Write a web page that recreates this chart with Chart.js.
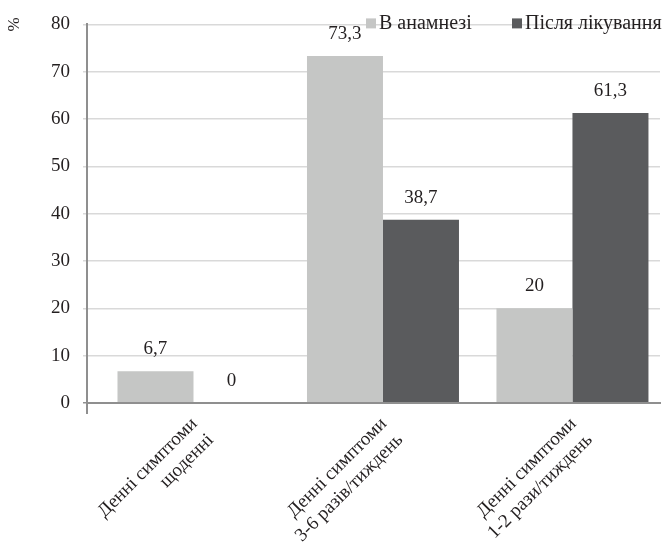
<!DOCTYPE html>
<html>
<head>
<meta charset="utf-8">
<script src="https://cdn.jsdelivr.net/npm/chart.js@4/dist/chart.umd.min.js"></script>
<style>
  html, body { margin: 0; padding: 0; background: #ffffff; }
  #wrap { width: 667px; height: 555px; position: relative; }
</style>
</head>
<body>
<div id="wrap"><canvas id="chart"></canvas></div>
<script>
// Day-time symptom frequency, % of patients
const categories = [
  ['Денні симптоми', 'щоденні'],
  ['Денні симптоми', '3-6 разів/тиждень'],
  ['Денні симптоми', '1-2 рази/тиждень']
];
const seriesNames = ['В анамнезі', 'Після лікування'];
const historyValues = [6.7, 73.3, 20];
const afterTreatmentValues = [0, 38.7, 61.3];
const yTicks = [0, 10, 20, 30, 40, 50, 60, 70, 80];
const yUnit = '%';

const FONT = '"Liberation Serif", "Times New Roman", serif';
const TEXT = '#231f20';
const AXIS = '#8f8f8f';
const COLORS = ['#c5c6c5', '#5a5b5d'];

const fmt = v => String(v).replace('.', ',');

// value labels above each bar, the unit title and the legend
const decorations = {
  id: 'decorations',
  afterDatasetsDraw(chart) {
    const ctx = chart.ctx;
    ctx.save();
    ctx.fillStyle = TEXT;
    ctx.font = '19px ' + FONT;
    ctx.textAlign = 'center';
    ctx.textBaseline = 'middle';
    chart.data.datasets.forEach((ds, di) => {
      const meta = chart.getDatasetMeta(di);
      meta.data.forEach((bar, i) => {
        ctx.fillText(fmt(ds.data[i].y), bar.x, bar.y - 22);
      });
    });
    ctx.restore();
  },
  afterDraw(chart) {
    const ctx = chart.ctx;
    const area = chart.chartArea;
    ctx.save();
    // small tick under the axis corner
    ctx.strokeStyle = AXIS;
    ctx.lineWidth = 2;
    ctx.beginPath();
    ctx.moveTo(area.left, area.bottom);
    ctx.lineTo(area.left, area.bottom + 11);
    ctx.stroke();

    // unit title
    ctx.fillStyle = TEXT;
    ctx.font = '17px ' + FONT;
    ctx.translate(15, area.top);
    ctx.rotate(-Math.PI / 2);
    ctx.textAlign = 'center';
    ctx.textBaseline = 'middle';
    ctx.fillText(yUnit, 0, 0);
    ctx.restore();

    // legend
    ctx.save();
    ctx.font = '20px ' + FONT;
    ctx.textBaseline = 'middle';
    ctx.textAlign = 'left';
    const ly = area.top - 1;
    const starts = [366, 512];
    seriesNames.forEach((name, i) => {
      ctx.fillStyle = COLORS[i];
      ctx.fillRect(starts[i], ly - 5, 10, 10);
      ctx.fillStyle = TEXT;
      ctx.fillText(name, starts[i] + 13, ly);
    });
    ctx.restore();
  }
};

new Chart(document.getElementById('chart'), {
  type: 'bar',
  data: {
    datasets: [
      {
        label: seriesNames[0],
        data: historyValues.map((v, i) => ({ x: i, y: v })),
        backgroundColor: COLORS[0]
      },
      {
        label: seriesNames[1],
        data: afterTreatmentValues.map((v, i) => ({ x: i, y: v })),
        backgroundColor: COLORS[1]
      }
    ]
  },
  options: {
    responsive: true,
    maintainAspectRatio: false,
    animation: false,
    devicePixelRatio: 1,
    barThickness: 76,
    inflateAmount: 0,
    layout: { padding: { top: 24, right: 7, bottom: 0, left: 0 } },
    plugins: {
      legend: { display: false },
      tooltip: { enabled: false }
    },
    scales: {
      x: {
        type: 'linear',
        offset: false,
        min: -0.562,
        max: 2.462,
        afterBuildTicks: s => { s.ticks = categories.map((_, i) => ({ value: i })); },
        afterFit: s => { s.height = 152; s.paddingLeft = 0; s.paddingRight = 0; },
        grid: { display: false, offset: false },
        border: { display: true, color: AXIS, width: 2, z: 1 },
        ticks: {
          callback: v => categories[v],
          minRotation: 45,
          maxRotation: 45,
          autoSkip: false,
          padding: 2,
          labelOffset: 1,
          color: TEXT,
          font: { family: FONT, size: 19, lineHeight: 1.2 }
        }
      },
      y: {
        min: 0,
        max: 80,
        afterBuildTicks: s => { s.ticks = yTicks.map(v => ({ value: v })); },
        afterFit: s => { s.width = 87; },
        grid: {
          color: ctx => (ctx.tick && ctx.tick.value === 0 ? AXIS : '#d9d9d9'),
          lineWidth: 1.5,
          tickLength: 4,
          drawTicks: true
        },
        border: { display: true, color: AXIS, width: 2 },
        ticks: {
          padding: 13,
          color: TEXT,
          font: { family: FONT, size: 19 }
        }
      }
    }
  },
  plugins: [decorations]
});
</script>
</body>
</html>
